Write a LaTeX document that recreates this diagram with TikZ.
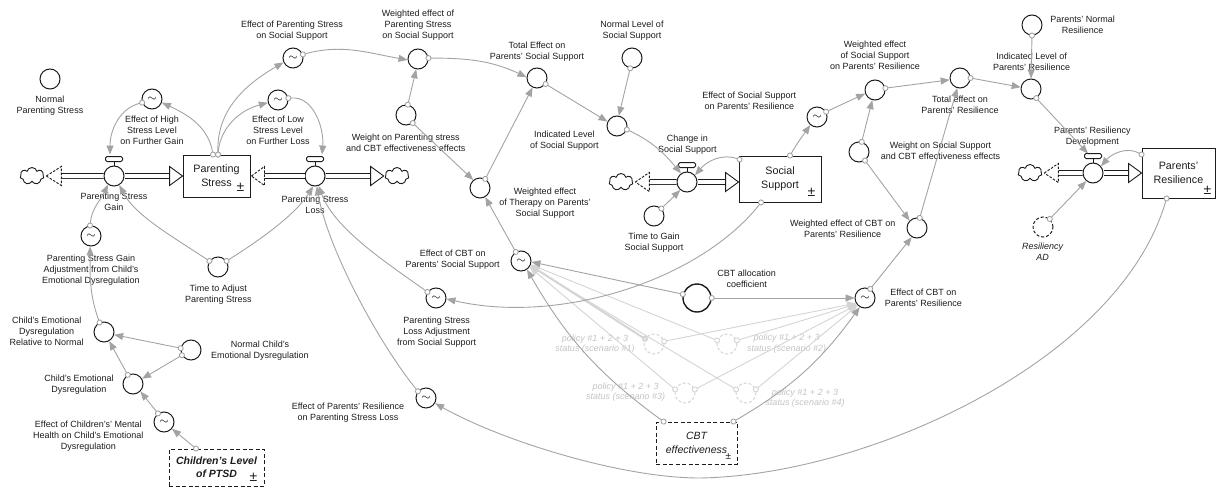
\documentclass[tikz,border=0pt]{standalone}
\usepackage{fontspec}
\setmainfont{Liberation Sans}
\usetikzlibrary{arrows.meta,calc,shapes.symbols}
\definecolor{ink}{HTML}{1C1C1C}
\definecolor{cg}{HTML}{A3A3A3}
\definecolor{gh}{HTML}{D4D4D4}
\definecolor{ght}{HTML}{C3C3C3}
\newcommand\gsym{$\sim$}
\newcommand\valvetop[1]{%
  \draw[draw=ink, line width=1pt] (#1.north) -- ($(#1.north)+(0,-4)$);
  \draw[draw=ink, line width=1pt, fill=white, rounded corners=1.5pt] ($(#1.north)+(-8.5,-4)$) rectangle ($(#1.north)+(8.5,-9)$);}
\tikzset{
  conv/.style={circle, draw=ink, line width=1pt, minimum size=20pt, inner sep=0pt, font=\fontsize{12}{12}\selectfont},
  valve/.style={circle, draw=ink, line width=1pt, minimum size=20pt, inner sep=0pt},
  ghost/.style={circle, draw=gh, dash pattern=on 3pt off 2pt, line width=1pt, minimum size=20pt, inner sep=0pt},
  lab/.style={align=center, inner sep=0pt, text=ink, font=\fontsize{9}{11}\selectfont},
  glab/.style={align=center, inner sep=0pt, text=ght, font=\fontsize{9}{10.5}\selectfont\itshape},
  stock/.style={rectangle, draw=ink, line width=0.9pt, inner sep=0pt, align=center, text=ink, font=\fontsize{10.75}{14}\selectfont},
  dstock/.style={stock, dash pattern=on 4pt off 2.5pt},
  pm/.style={inner sep=0pt, text=ink, font=\fontsize{14}{14}\selectfont},
  lk/.style={draw=cg, line width=0.9pt, {Circle[open,fill=white,length=6pt,width=6pt]}-{Triangle[length=9pt,width=7pt]}, shorten <=-3pt},
  glk/.style={lk, draw=gh},
  cloudn/.style={cloud, draw=ink, line width=0.9pt, cloud puffs=7, aspect=1.4, minimum width=24pt, minimum height=17pt, inner sep=0pt},
  pipe/.style={draw=ink, line width=0.9pt, double=white, double distance=4pt},
  stri/.style={draw=ink, line width=0.9pt, fill=white},
  dtri/.style={draw=ink, line width=0.9pt, fill=white, dash pattern=on 2.5pt off 1.5pt},
}
\begin{document}
\begin{tikzpicture}[x=1pt,y=-1pt]
\useasboundingbox (0,0) rectangle (1217,487);

% ---------- stocks
\node[stock, minimum width=67pt, minimum height=42pt] (ps) at (216.5,176) {Parenting\\Stress};
\node[pm] (pspm) at ($(ps.south east)+(-10,-10)$) {±};
\node[stock, minimum width=82pt, minimum height=46pt] (ss) at (780,179) {Social\\Support};
\node[pm] (sspm) at ($(ss.south east)+(-10,-10)$) {±};
\node[stock, minimum width=73pt, minimum height=50pt] (pr) at (1178.5,173) {Parents'\\Resilience};
\node[pm] (prpm) at ($(pr.south east)+(-8,-8)$) {±};
\node[dstock, minimum width=95pt, minimum height=37pt, font=\fontsize{10.5}{13}\selectfont\bfseries\itshape] (ptsd) at (216.5,467.5) {Children's Level\\of PTSD};
\node[pm] (ptsdpm) at ($(ptsd.south east)+(-11,-9)$) {±};
\node[dstock, minimum width=81pt, minimum height=42pt, font=\fontsize{10.5}{13.5}\selectfont\itshape] (cbte) at (696.5,443) {CBT\\effectiveness};
\node[pm, font=\fontsize{10}{10}\selectfont] (cbtepm) at ($(cbte.south east)+(-9,-8)$) {±};

% ---------- converters
\node[conv] (nps) at (50,79) {};
\node[conv] (ehs) at (152,99) {\gsym};
\node[valve] (vgain) at (114,176) {};
\node[conv] (elsl) at (278,100) {\gsym};
\node[valve] (vloss) at (315,176) {};
\node[conv] (epss) at (293,58) {\gsym};
\node[conv] (wps) at (418,59) {};
\node[conv] (wpc) at (406,115) {};
\node[conv] (wth) at (480,188) {};
\node[conv] (tess) at (537,78) {};
\node[conv] (ilss) at (617,126) {};
\node[conv] (nlss) at (632,58) {};
\node[valve] (vcss) at (687,182) {};
\node[conv] (tgss) at (654,216) {};
\node[conv] (essr) at (817,117) {\gsym};
\node[conv] (wssr) at (875,90) {};
\node[conv] (wsc) at (859,152) {};
\node[conv] (tepr) at (960,78) {};
\node[conv] (ilpr) at (1031,89) {};
\node[conv] (pnr) at (1032,25) {};
\node[valve] (vprd) at (1093,173) {};
\node[conv, dash pattern=on 3pt off 2pt] (rad) at (1043,227) {};
\node[conv] (wcpr) at (917,228) {};
\node[conv] (ecpr) at (865,298) {\gsym};
\node[conv, minimum size=28pt, line width=1.4pt] (cac) at (697,298) {};
\node[conv] (ecss) at (521,261) {\gsym};
\node[conv] (psla) at (436,298) {\gsym};
\node[conv] (eprl) at (426,398) {\gsym};
\node[conv] (tap) at (218,267) {};
\node[conv] (psga) at (91,236) {\gsym};
\node[conv] (cedr) at (104,332) {};
\node[conv] (ncd) at (191,350) {};
\node[conv] (ced) at (133,384) {};
\node[conv] (ecmh) at (164,422) {\gsym};
\node[ghost] (s1) at (654,344) {};
\node[ghost] (s2) at (727,344) {};
\node[ghost] (s3) at (685,393) {};
\node[ghost] (s4) at (746,393) {};

% ---------- clouds
\node[cloudn] (cl1) at (32,176) {};
\node[cloudn] (cl2) at (397,176) {};
\node[cloudn] (cl3) at (621,182) {};
\node[cloudn] (cl4) at (1030,173) {};

% ---------- labels
\node[lab] (l1) at (50,106) {Normal\\Parenting Stress};
\node[lab] (l2) at (152,130) {Effect of High\\Stress Level\\on Further Gain};
\node[lab] (l3) at (114,202) {Parenting Stress\\Gain};
\node[lab] (l4) at (278,130) {Effect of Low\\Stress Level\\on Further Loss};
\node[lab] (l5) at (292,30.5) {Effect of Parenting Stress\\on Social Support};
\node[lab] (l6) at (418,24.7) {Weighted effect of\\Parenting Stress\\on Social Support};
\node[lab] (l7) at (405.7,142.8) {Weight on Parenting stress\\and CBT effectiveness effects};
\node[lab] (l8) at (537,51.2) {Total Effect on\\Parents' Social Support};
\node[lab] (l9) at (545,203.3) {Weighted effect\\of Therapy on Parents'\\Social Support};
\node[lab] (l10) at (564.3,140.3) {Indicated Level\\of Social Support};
\node[lab] (l11) at (632,30.5) {Normal Level of\\Social Support};
\node[lab] (l12) at (687.3,144.7) {Change in\\Social Support};
\node[lab] (l13) at (654,242.8) {Time to Gain\\Social Support};
\node[lab] (l14) at (749.3,101.2) {Effect of Social Support\\on Parents' Resilience};
\node[lab] (l15) at (875,55) {Weighted effect\\of Social Support\\on Parents' Resilience};
\node[lab] (l16) at (940.5,151.2) {Weight on Social Support\\and CBT effectiveness effects};
\node[lab] (l17) at (960,104.5) {Total effect on\\Parents' Resilience};
\node[lab] (l18) at (1031.7,62.2) {Indicated Level of\\Parents' Resilience};
\node[lab] (l19) at (1082.7,24.5) {Parents' Normal\\Resilience};
\node[lab] (l20) at (1092.3,136.2) {Parents' Resiliency\\Development};
\node[lab, font=\fontsize{9}{11}\selectfont\itshape] (l21) at (1042.7,252.2) {Resiliency\\AD};
\node[lab] (l22) at (842.7,228.7) {Weighted effect of CBT on\\Parents' Resilience};
\node[lab] (l23) at (923.4,297.7) {Effect of CBT on\\Parents' Resilience};
\node[lab] (l24) at (746.7,278.7) {CBT allocation\\coefficient};
\node[lab] (l25) at (452.7,259.7) {Effect of CBT on\\Parents' Social Support};
\node[lab] (l26) at (436.7,331.7) {Parenting Stress\\Loss Adjustment\\from Social Support};
\node[lab] (l27) at (348,412.2) {Effect of Parents' Resilience\\on Parenting Stress Loss};
\node[lab] (l28) at (315,204.7) {Parenting Stress\\Loss};
\node[lab] (l29) at (218.3,294.5) {Time to Adjust\\Parenting Stress};
\node[lab] (l30) at (91,269.9) {Parenting Stress Gain\\Adjustment from Child's\\Emotional Dysregulation};
\node[lab] (l31) at (46.7,331.5) {Child's Emotional\\Dysregulation\\Relative to Normal};
\node[lab] (l32) at (260,350.5) {Normal Child's\\Emotional Dysregulation};
\node[lab] (l33) at (79,384.7) {Child's Emotional\\Dysregulation};
\node[lab] (l34) at (88.3,435.9) {Effect of Children's' Mental\\Health on Child's Emotional\\Dysregulation};
\node[glab] (g1) at (595,344.3) {policy \#1 + 2 + 3\\status (scenario \#1)};
\node[glab] (g2) at (786.7,343.7) {policy \#1 + 2 + 3\\status (scenario \#2)};
\node[glab] (g3) at (625.7,392.2) {policy \#1 + 2 + 3\\status (scenario \#3)};
\node[glab] (g4) at (805,398.3) {policy \#1 + 2 + 3\\status (scenario \#4)};

% ---------- flows
% gain
\draw[pipe] ($(cl1.east)+(17,0)$) -- (vgain.west);
\draw[dtri] ($(cl1.east)+(2,0)$) -- ++(15,-9.5) -- ++(0,19) -- cycle;
\draw[pipe] (vgain.east) -- ($(ps.west)+(-13,0)$);
\draw[stri] (ps.west) -- ++(-13,-9.5) -- ++(0,19) -- cycle;
\valvetop{vgain}
% loss
\draw[pipe] ($(ps.east)+(14,0)$) -- (vloss.west);
\draw[dtri] ($(ps.east)+(1,0)$) -- ++(13,-9.5) -- ++(0,19) -- cycle;
\draw[pipe] (vloss.east) -- ($(cl2.west)+(-14,0)$);
\draw[stri] ($(cl2.west)+(-1,0)$) -- ++(-13,-9.5) -- ++(0,19) -- cycle;
\valvetop{vloss}
% change in social support
\draw[pipe] ($(cl3.east)+(16,0)$) -- (vcss.west);
\draw[dtri] ($(cl3.east)+(2,0)$) -- ++(14,-9.5) -- ++(0,19) -- cycle;
\draw[pipe] (vcss.east) -- ($(ss.west |- vcss)+(-13,0)$);
\draw[stri] (ss.west |- vcss) -- ++(-13,-9.5) -- ++(0,19) -- cycle;
\valvetop{vcss}
% parents' resiliency development
\draw[pipe] ($(cl4.east)+(16,0)$) -- (vprd.west);
\draw[dtri] ($(cl4.east)+(2,0)$) -- ++(14,-9.5) -- ++(0,19) -- cycle;
\draw[pipe] (vprd.east) -- ($(pr.west)+(-13,0)$);
\draw[stri] (pr.west) -- ++(-13,-9.5) -- ++(0,19) -- cycle;
\valvetop{vprd}

% ---------- ghost links
\draw[glk, line width=2pt] (s1.150) -- (ecss.-25);
\draw[glk] (s1.15) -- (ecpr.-150);
\draw[glk] (s2.160) -- (ecss.-20);
\draw[glk] (s2.20) -- (ecpr.-145);
\draw[glk] (s3.160) -- (ecss.-35);
\draw[glk] (s3.20) -- (ecpr.-140);
\draw[glk] (s4.160) -- (ecss.-30);
\draw[glk] (s4.20) -- (ecpr.-135);

% ---------- links
\draw[lk] ($(ps.north)+(-3.5,0)$) to[out=100,in=-25] (ehs.-20);
\draw[lk] (ehs.200) to[out=195,in=90] ($(vgain.north)+(-4,-11)$);
\draw[lk] ($(ps.north)+(1.5,0)$) to[out=85,in=195] (elsl.195);
\draw[lk] ($(ps.north)+(1.5,0)$) to[out=92,in=210] (epss.205);
\draw[lk] (elsl.10) to[out=5,in=85] ($(vloss.north)+(7,-11)$);
\draw[lk] (epss.20) to[out=15,in=170] (wps.185);
\draw[lk] (wpc.80) -- (wps.260);
\draw[lk] (wpc.-50) -- (wth.130);
\draw[lk] (wps.5) to[out=0,in=155] (tess.175);
\draw[lk] (wth.60) -- (tess.245);
\draw[lk] (tess.-35) -- (ilss.155);
\draw[lk] (nlss.-100) -- (ilss.80);
\draw[lk] (ilss.-20) to[out=-25,in=130] (vcss.125);
\draw[lk] ($(ss.north west)+(1,4)$) to[out=160,in=50] (vcss.40);
\draw[lk] (tgss.45) -- (vcss.-130);
\draw[lk] ($(ss.north)+(10,0)$) to[out=60,in=235] (essr.230);
\draw[lk] (essr.30) -- (wssr.200);
\draw[lk] (wsc.75) -- (wssr.255);
\draw[lk] (wsc.-55) -- (wcpr.135);
\draw[lk] (wssr.10) -- (tepr.190);
\draw[lk] (wcpr.75) -- (tepr.255);
\draw[lk] (tepr.0) -- (ilpr.170);
\draw[lk] (pnr.south) -- (ilpr.north);
\draw[lk] (ilpr.-60) -- ($(vprd.north)+(-5,-9)$);
\draw[lk] ($(pr.north west)+(0,7)$) to[out=150,in=50] (vprd.40);
\draw[lk] (rad.50) -- (vprd.-130);
\draw[lk] (ecpr.60) -- (wcpr.-120);
\draw[lk] (cac.east) -- (ecpr.west);
\draw[lk] (cac.165) -- (ecss.-5);
\draw[lk] ($(ss.south)+(-19,0)$) .. controls (700,280) and (560,325) .. (psla.-5);
\draw[lk] (psla.145) .. controls (390,265) and (335,230) .. (vloss.-70);
\draw[lk] (eprl.140) .. controls (380,345) and (328,250) .. (vloss.-80);
\draw[lk] (tap.145) .. controls (170,235) and (135,215) .. (vgain.-60);
\draw[lk] (tap.35) .. controls (260,240) and (295,215) .. (vloss.-100);
\draw[lk] (psga.95) to[out=85,in=-115] (vgain.-125);
\draw[lk] (cedr.115) to[out=110,in=-90] (psga.-95);
\draw[lk] (ncd.170) -- (cedr.-15);
\draw[lk] (ncd.210) -- (ced.30);
\draw[lk] (ced.120) -- (cedr.-60);
\draw[lk] (ecmh.125) -- (ced.-45);
\draw[lk] ($(ptsd.north)+(-20.5,0)$) -- (ecmh.-40);
\coordinate (nnm) at (700,478);
\draw[lk] ($(pr.south)+(-12,0)$) .. controls (1120,360) and (870,475) .. (nnm) .. controls (620,478) and (500,440) .. (eprl.-30);
\draw[lk] ($(cbte.north west)+(8,0)$) to[bend left=12] (ecss.-55);
\draw[lk] ($(cbte.north east)+(-4,0)$) to[bend right=12] (ecpr.-120);
\draw[lk] (ecss.120) -- (wth.-60);
\end{tikzpicture}
\end{document}
